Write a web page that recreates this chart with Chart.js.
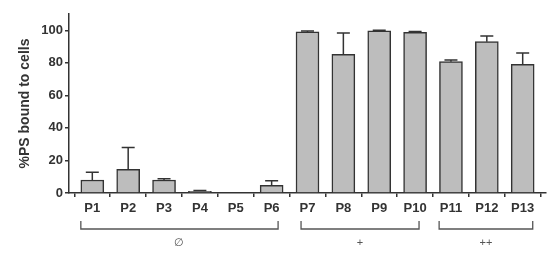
<!DOCTYPE html>
<html>
<head>
<meta charset="utf-8">
<script src="https://cdn.jsdelivr.net/npm/chart.js@4/dist/chart.umd.min.js"></script>
<style>
  html, body { margin: 0; padding: 0; background: #fff; }
  #wrap { width: 550px; height: 260px; }
</style>
</head>
<body>
<div id="wrap"><canvas id="chart" width="550" height="260"></canvas></div>
<script>
const categories = ["P1", "P2", "P3", "P4", "P5", "P6", "P7", "P8", "P9", "P10", "P11", "P12", "P13"];
const means = [8, 14.6, 8, 1, 0, 4.7, 99, 85.2, 99.6, 98.8, 80.7, 93, 79];
const errors = [4.7, 13.4, 0.7, 0.6, 0, 2.9, 0.5, 13.1, 0.4, 0.5, 1, 3.5, 7];
const yTicks = [0, 20, 40, 60, 80, 100];
const groupLabels = ["\u2205", "+", "++"];
// bracket ends, in x-axis units (category index)
const groupFrom = [-0.32, 5.82, 9.67];
const groupTo = [5.18, 9.11, 12.28];

const INK = "#333333";
const FONT = "'Liberation Sans', Arial, sans-serif";

// upper error bars + group brackets under the axis
const extras = {
  id: "extras",
  afterDatasetsDraw(chart) {
    const { ctx, scales: { x, y } } = chart;
    const meta = chart.getDatasetMeta(0);
    ctx.save();
    ctx.strokeStyle = INK;
    ctx.lineWidth = 1.5;
    meta.data.forEach((bar, i) => {
      if (!errors[i]) return;
      const top = y.getPixelForValue(means[i] + errors[i]);
      const base = y.getPixelForValue(means[i]);
      ctx.beginPath();
      ctx.moveTo(bar.x, base);
      ctx.lineTo(bar.x, top);
      ctx.moveTo(bar.x - 6.5, top);
      ctx.lineTo(bar.x + 6.5, top);
      ctx.stroke();
    });

    ctx.strokeStyle = "#555";
    ctx.lineWidth = 1.3;
    ctx.fillStyle = "#555";
    ctx.font = "11px " + FONT;
    ctx.textAlign = "center";
    ctx.textBaseline = "middle";
    groupLabels.forEach((lab, g) => {
      const x0 = x.getPixelForValue(groupFrom[g]);
      const x1 = x.getPixelForValue(groupTo[g]);
      ctx.beginPath();
      ctx.moveTo(x0, 221);
      ctx.lineTo(x0, 229);
      ctx.lineTo(x1, 229);
      ctx.lineTo(x1, 221);
      ctx.stroke();
      ctx.fillText(lab, (x0 + x1) / 2, 243);
    });
    ctx.restore();
  }
};

new Chart(document.getElementById("chart"), {
  type: "bar",
  data: {
    datasets: [{
      data: categories.map((c, i) => ({ x: i, y: means[i] })),
      backgroundColor: "#bdbdbd",
      borderColor: INK,
      borderWidth: 1.5,
      barThickness: 23,
    }]
  },
  options: {
    responsive: false,
    animation: false,
    layout: { padding: { top: 14, right: 4, left: 0, bottom: 0 } },
    plugins: { legend: { display: false }, tooltip: { enabled: false } },
    scales: {
      x: {
        type: "linear",
        offset: false,
        min: -0.65,
        max: 12.65,
        afterBuildTicks: (s) => { s.ticks = categories.map((c, i) => ({ value: i })); },
        afterFit: (s) => { s.height = 67; },
        ticks: {
          autoSkip: false,
          maxRotation: 0,
          color: INK,
          font: { family: FONT, size: 13, weight: "bold" },
          padding: 4,
          callback: (v) => categories[v],
        },
        grid: { drawOnChartArea: false, tickLength: 4, color: INK, lineWidth: 1.5 },
        border: { color: INK, width: 1.5 },
      },
      y: {
        min: 0,
        max: 110,
        afterBuildTicks: (s) => { s.ticks = yTicks.map((v) => ({ value: v })); },
        afterFit: (s) => { s.width = 69; },
        ticks: {
          color: INK,
          font: { family: FONT, size: 13, weight: "bold" },
          padding: 2,
        },
        grid: { drawOnChartArea: false, tickLength: 4, color: INK, lineWidth: 1.5 },
        border: { color: INK, width: 1.5 },
        title: {
          display: true,
          text: "%PS bound to cells",
          color: INK,
          font: { family: FONT, size: 14, weight: "bold" },
          padding: { top: 17, bottom: 0 },
        },
      },
    },
  },
  plugins: [extras],
});
</script>
</body>
</html>
